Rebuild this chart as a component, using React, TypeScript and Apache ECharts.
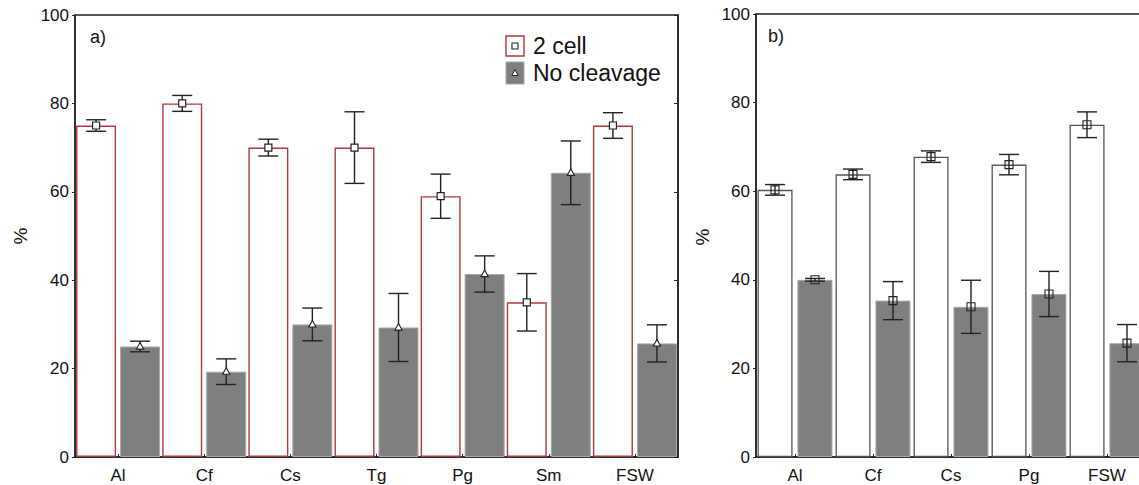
import React, { useEffect, useRef } from "react";
import * as echarts from "echarts";

const categoriesA = ["Al", "Cf", "Cs", "Tg", "Pg", "Sm", "FSW"];
const twoCellA = [75, 80, 70, 70, 59, 35, 75];
const twoCellErrA = [1.3, 1.8, 1.9, 8.1, 5.0, 6.5, 2.9];
const noCleavA = [25.0, 19.3, 30.0, 29.3, 41.4, 64.3, 25.7];
const noCleavErrA = [1.2, 2.9, 3.7, 7.7, 4.1, 7.2, 4.2];

const categoriesB = ["Al", "Cf", "Cs", "Pg", "FSW"];
const twoCellB = [60.3, 63.8, 67.8, 66.0, 75.0];
const twoCellErrB = [1.2, 1.2, 1.3, 2.3, 2.9];
const noCleavB = [40.0, 35.3, 33.9, 36.8, 25.7];
const noCleavErrB = [0.3, 4.3, 6.0, 5.1, 4.2];

const yTicks = [0, 20, 40, 60, 80, 100];

const FONT = "'Liberation Sans', Arial, sans-serif";
const RED = "#b0393d";
const GRAY = "#7f7f7f";
const LINE = "#222";

function errorSeries(
  name: string,
  axisIndex: number,
  values: number[],
  errs: number[],
  offset: number,
  marker: "square" | "triangle" | "hollow"
) {
  return {
    type: "custom",
    name,
    xAxisIndex: axisIndex,
    yAxisIndex: axisIndex * 2,
    z: 5,
    encode: { x: 0, y: 1 },
    data: values.map((v, k) => [k, v, errs[k]]),
    renderItem: (params: any, api: any) => {
      const i = api.value(0);
      const v = api.value(1);
      const e = api.value(2);
      const p = api.coord([i, v]);
      const t = api.coord([i, v + e]);
      const b = api.coord([i, v - e]);
      const x = p[0] + offset;
      const cap = 10;
      const ls = { stroke: LINE, lineWidth: 1.4 };
      const children: any[] = [
        { type: "line", shape: { x1: x, y1: t[1], x2: x, y2: b[1] }, style: ls },
        { type: "line", shape: { x1: x - cap, y1: t[1], x2: x + cap, y2: t[1] }, style: ls },
        { type: "line", shape: { x1: x - cap, y1: b[1], x2: x + cap, y2: b[1] }, style: ls },
      ];
      if (marker === "square") {
        children.push({
          type: "rect",
          shape: { x: x - 3.5, y: p[1] - 3.5, width: 7, height: 7 },
          style: { fill: "#fff", stroke: LINE, lineWidth: 1.2 },
        });
      } else if (marker === "hollow") {
        children.push({
          type: "rect",
          shape: { x: x - 4, y: p[1] - 4, width: 8, height: 8 },
          style: { fill: "none", stroke: LINE, lineWidth: 1.1 },
        });
      } else {
        children.push({
          type: "polygon",
          shape: {
            points: [
              [x, p[1] - 4],
              [x - 3.6, p[1] + 2.6],
              [x + 3.6, p[1] + 2.6],
            ],
          },
          style: { fill: "#fff", stroke: LINE, lineWidth: 1.1 },
        });
      }
      return { type: "group", children };
    },
  };
}

function yAxes(gridIndex: number, showRight: boolean) {
  return [
    {
      type: "value",
      gridIndex,
      min: 0,
      max: 100,
      interval: 20,
      position: "left",
      axisLine: { show: true, lineStyle: { color: LINE, width: 1.5 } },
      axisTick: { show: true, inside: false, length: 3, lineStyle: { color: LINE } },
      axisLabel: {
        fontSize: 17,
        color: "#111",
        fontFamily: FONT,
        margin: 6,
        formatter: (val: number) => (yTicks.includes(val) ? String(val) : ""),
      },
      splitLine: { show: false },
    },
    {
      type: "value",
      gridIndex,
      min: 0,
      max: 100,
      interval: 20,
      position: "right",
      show: showRight,
      axisLine: { show: showRight, lineStyle: { color: LINE, width: 1.5 } },
      axisTick: { show: showRight, inside: true, length: 4, lineStyle: { color: LINE } },
      axisLabel: { show: false },
      splitLine: { show: false },
    },
  ];
}

function xAxis(gridIndex: number, data: string[]) {
  return {
    type: "category",
    gridIndex,
    data,
    axisLine: { show: true, lineStyle: { color: LINE, width: 1.5 } },
    axisTick: { show: true, inside: true, length: 3, alignWithLabel: true, lineStyle: { color: LINE } },
    axisLabel: { fontSize: 17, color: "#111", fontFamily: FONT, margin: 10 },
    splitLine: { show: false },
  };
}

export default function App() {
  const ref = useRef<HTMLDivElement>(null);
  useEffect(() => {
    if (!ref.current) return;
    const chart = echarts.init(ref.current, null, { renderer: "svg" });
    const option: any = {
      animation: false,
      backgroundColor: "#fff",
      textStyle: { fontFamily: FONT },
      grid: [
        { left: 75, top: 15, width: 603, height: 442, show: true, borderColor: LINE, borderWidth: 1.5, backgroundColor: "transparent" },
        { left: 756, top: 14, width: 390, height: 443, show: true, borderColor: LINE, borderWidth: 1.5, backgroundColor: "transparent" },
      ],
      xAxis: [xAxis(0, categoriesA), xAxis(1, categoriesB)],
      yAxis: [...yAxes(0, true), ...yAxes(1, false)],
      series: [
        {
          type: "bar",
          name: "2 cell",
          xAxisIndex: 0,
          yAxisIndex: 0,
          data: twoCellA,
          barWidth: 40,
          barGap: "10%",
          itemStyle: { color: "#fff", borderColor: RED, borderWidth: 1.4 },
        },
        {
          type: "bar",
          name: "No cleavage",
          xAxisIndex: 0,
          yAxisIndex: 0,
          data: noCleavA,
          barWidth: 40,
          barGap: "10%",
          itemStyle: { color: GRAY, borderColor: "#a8a8a8", borderWidth: 1 },
        },
        {
          type: "bar",
          name: "2 cell (b)",
          xAxisIndex: 1,
          yAxisIndex: 2,
          data: twoCellB,
          barWidth: 35,
          barGap: "14%",
          itemStyle: { color: "#fff", borderColor: "#555", borderWidth: 1.3 },
        },
        {
          type: "bar",
          name: "No cleavage (b)",
          xAxisIndex: 1,
          yAxisIndex: 2,
          data: noCleavB,
          barWidth: 35,
          barGap: "14%",
          itemStyle: { color: GRAY, borderColor: "#a8a8a8", borderWidth: 1 },
        },
        errorSeries("2 cell err", 0, twoCellA, twoCellErrA, -22, "square"),
        errorSeries("No cleavage err", 0, noCleavA, noCleavErrA, 22, "triangle"),
        errorSeries("2 cell err b", 1, twoCellB, twoCellErrB, -20, "hollow"),
        errorSeries("No cleavage err b", 1, noCleavB, noCleavErrB, 20, "hollow"),
      ],
      graphic: [
        // panel labels
        { type: "text", left: 90, top: 28, style: { text: "a)", fontSize: 18, fill: "#111", fontFamily: FONT } },
        { type: "text", left: 768, top: 27, style: { text: "b)", fontSize: 18, fill: "#111", fontFamily: FONT } },
        // y-axis names
        {
          type: "text",
          x: 20,
          y: 236,
          rotation: Math.PI / 2,
          style: { text: "%", fontSize: 19, fill: "#111", fontFamily: FONT, align: "center", verticalAlign: "middle" },
        },
        {
          type: "text",
          x: 702,
          y: 237,
          rotation: Math.PI / 2,
          style: { text: "%", fontSize: 19, fill: "#111", fontFamily: FONT, align: "center", verticalAlign: "middle" },
        },
        // legend
        { type: "rect", shape: { x: 506, y: 36, width: 18, height: 20 }, style: { fill: "#fff", stroke: RED, lineWidth: 1.4 } },
        { type: "rect", shape: { x: 512, y: 43, width: 6, height: 6 }, style: { fill: "#fff", stroke: LINE, lineWidth: 1.1 } },
        { type: "text", x: 533, y: 46, style: { text: "2 cell", fontSize: 23, fill: "#111", fontFamily: FONT, verticalAlign: "middle" } },
        { type: "rect", shape: { x: 506, y: 62, width: 18, height: 22 }, style: { fill: GRAY, stroke: "#a8a8a8", lineWidth: 1 } },
        {
          type: "polygon",
          shape: { points: [[515, 69.5], [511.8, 75.5], [518.2, 75.5]] },
          style: { fill: "#fff", stroke: LINE, lineWidth: 1 },
        },
        { type: "text", x: 533, y: 73, style: { text: "No cleavage", fontSize: 23, fill: "#111", fontFamily: FONT, verticalAlign: "middle" } },
      ],
    };
    chart.setOption(option);
    return () => chart.dispose();
  }, []);
  return (
    <div style={{ position: "fixed", left: 0, top: 0, width: 1139, height: 485, overflow: "hidden", background: "#fff" }}>
      <div ref={ref} style={{ width: 1170, height: 485 }} />
    </div>
  );
}
